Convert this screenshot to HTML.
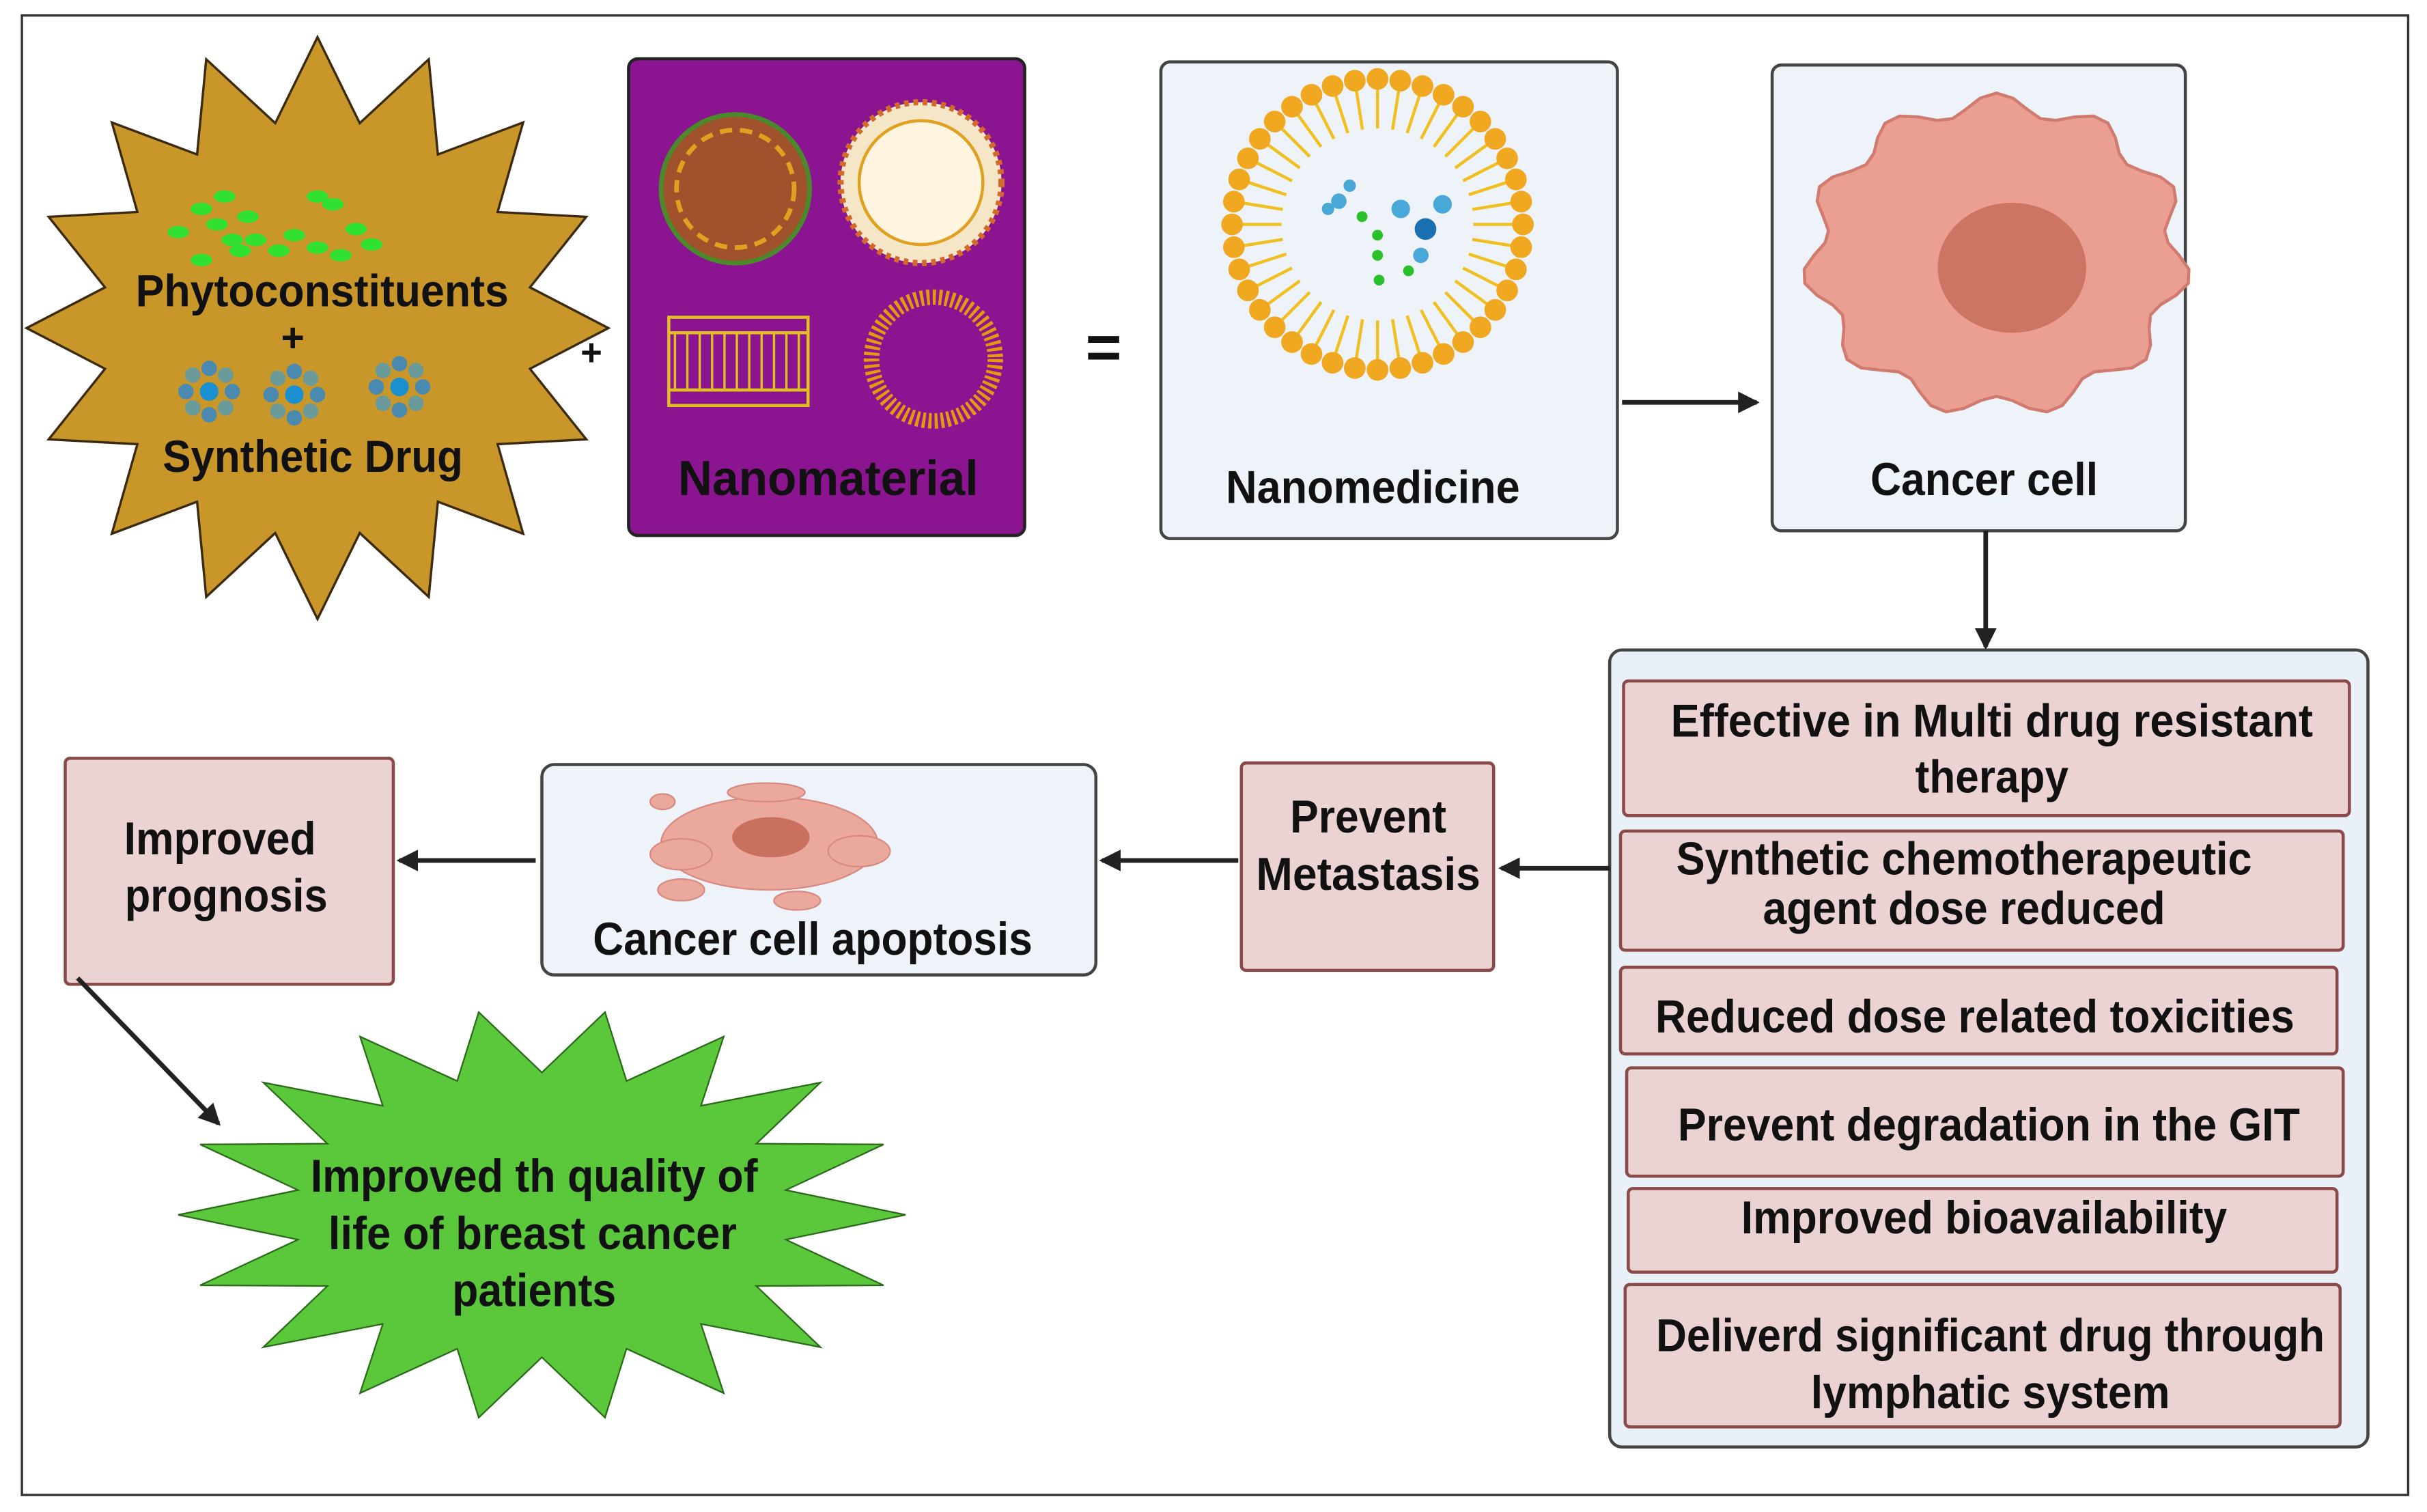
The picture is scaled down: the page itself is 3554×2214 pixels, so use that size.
<!DOCTYPE html>
<html><head><meta charset="utf-8"><style>
html,body{margin:0;padding:0;background:#fff}
svg{display:block}
text{font-family:"Liberation Sans",sans-serif;font-weight:bold;fill:#111}
</style></head><body>
<svg id="s" width="3554" height="2214" viewBox="0 0 1568 977" xmlns="http://www.w3.org/2000/svg">
<defs>
<marker id="ah2" markerWidth="14" markerHeight="14" refX="12" refY="7" orient="auto" markerUnits="userSpaceOnUse"><path d="M0,0 L14,7 L0,14 z" fill="#222"/></marker>
</defs>
<rect x="14" y="10" width="1542" height="956" fill="#fff" stroke="#333" stroke-width="1.5"/>
<polygon id="gold" fill="#c9962a" stroke="#3a2a10" stroke-width="1.5"/>
<g id="greens"></g>
<g id="blues"></g>
<g lengthAdjust="spacingAndGlyphs">
<text x="208" y="198" font-size="29" text-anchor="middle" textLength="241" lengthAdjust="spacingAndGlyphs">Phytoconstituents</text>
<text x="189" y="227" font-size="26" text-anchor="middle">+</text>
<text x="202" y="305" font-size="29" text-anchor="middle" textLength="194" lengthAdjust="spacingAndGlyphs">Synthetic Drug</text>
</g>
<text x="382" y="236" font-size="24" text-anchor="middle">+</text>
<rect x="406" y="38" width="256" height="308" rx="6" fill="#8b1590" stroke="#222" stroke-width="2"/>
<circle cx="475" cy="122" r="48" fill="#a0522d" stroke="#4a8a2a" stroke-width="3"/>
<circle cx="475" cy="122" r="38" fill="none" stroke="#e0a020" stroke-width="3" stroke-dasharray="8 5"/>
<circle cx="595" cy="118" r="52" fill="#f6e6c8" stroke="#d46a2a" stroke-width="4" stroke-dasharray="3 3"/>
<circle cx="595" cy="118" r="40" fill="#fff4e0" stroke="#e0a020" stroke-width="2"/>
<g stroke="#e0c020" stroke-width="2" fill="none">
<rect x="432" y="205" width="90" height="57"/>
<line x1="432" y1="215" x2="522" y2="215"/><line x1="432" y1="252" x2="522" y2="252"/>
</g>
<g id="bil"></g>
<circle cx="603" cy="232" r="40" fill="none" stroke="#e39a10" stroke-width="10" stroke-dasharray="2 2"/>
<text x="535" y="320" font-size="32" text-anchor="middle" textLength="194" lengthAdjust="spacingAndGlyphs">Nanomaterial</text>
<text x="713" y="238" font-size="40" text-anchor="middle">=</text>
<rect x="750" y="40" width="295" height="308" rx="6" fill="#eef3fa" stroke="#444" stroke-width="2"/>
<g id="lipo"></g>
<g fill="#4aa8d8"><circle cx="905" cy="135" r="6"/><circle cx="921" cy="148" r="7" fill="#1a70b0"/><circle cx="932" cy="132" r="6"/><circle cx="918" cy="165" r="5"/><circle cx="865" cy="130" r="5"/><circle cx="872" cy="120" r="4"/><circle cx="858" cy="135" r="4"/></g>
<g fill="#2ac02a"><circle cx="890" cy="152" r="3.5"/><circle cx="890" cy="165" r="3.5"/><circle cx="910" cy="175" r="3.5"/><circle cx="891" cy="181" r="3.5"/><circle cx="880" cy="140" r="3.5"/></g>
<text x="887" y="325" font-size="30" text-anchor="middle" textLength="190" lengthAdjust="spacingAndGlyphs">Nanomedicine</text>
<line x1="1048" y1="260" x2="1135" y2="260" stroke="#222" stroke-width="3" marker-end="url(#ah2)"/>
<rect x="1145" y="42" width="267" height="301" rx="6" fill="#eef3fa" stroke="#444" stroke-width="2"/>
<path id="cell" fill="#eb9f92" stroke="#d07a70" stroke-width="2"/>
<ellipse cx="1300" cy="173" rx="48" ry="42" fill="#cd7565"/>
<text x="1282" y="320" font-size="30" text-anchor="middle" textLength="147" lengthAdjust="spacingAndGlyphs">Cancer cell</text>
<line x1="1283" y1="343" x2="1283" y2="418" stroke="#222" stroke-width="3" marker-end="url(#ah2)"/>
<rect x="1040" y="420" width="490" height="515" rx="8" fill="#e9f0f8" stroke="#444" stroke-width="2"/>
<g fill="#ebd3d3" stroke="#8b4a4a" stroke-width="2">
<rect x="1049" y="440" width="469" height="87" rx="3"/>
<rect x="1047" y="537" width="467" height="77" rx="3"/>
<rect x="1047" y="625" width="463" height="56" rx="3"/>
<rect x="1051" y="690" width="463" height="70" rx="3"/>
<rect x="1052" y="768" width="458" height="54" rx="3"/>
<rect x="1050" y="830" width="462" height="92" rx="3"/>
</g>
<g font-size="30" text-anchor="middle">
<text x="1287" y="476" textLength="415" lengthAdjust="spacingAndGlyphs">Effective in Multi drug resistant</text>
<text x="1287" y="512" textLength="99" lengthAdjust="spacingAndGlyphs">therapy</text>
<text x="1269" y="565" textLength="372" lengthAdjust="spacingAndGlyphs">Synthetic chemotherapeutic</text>
<text x="1269" y="597" textLength="260" lengthAdjust="spacingAndGlyphs">agent dose reduced</text>
<text x="1276" y="667" textLength="413" lengthAdjust="spacingAndGlyphs">Reduced dose related toxicities</text>
<text x="1285" y="737" textLength="402" lengthAdjust="spacingAndGlyphs">Prevent degradation in the GIT</text>
<text x="1282" y="797" textLength="314" lengthAdjust="spacingAndGlyphs">Improved bioavailability</text>
<text x="1286" y="873" textLength="432" lengthAdjust="spacingAndGlyphs">Deliverd significant drug through</text>
<text x="1286" y="910" textLength="232" lengthAdjust="spacingAndGlyphs">lymphatic system</text>
</g>
<line x1="1040" y1="561" x2="970" y2="561" stroke="#222" stroke-width="3" marker-end="url(#ah2)"/>
<rect x="802" y="493" width="163" height="134" rx="3" fill="#ebd3d3" stroke="#8b4a4a" stroke-width="2"/>
<text x="884" y="538" font-size="30" text-anchor="middle" textLength="101" lengthAdjust="spacingAndGlyphs">Prevent</text>
<text x="884" y="575" font-size="30" text-anchor="middle" textLength="145" lengthAdjust="spacingAndGlyphs">Metastasis</text>
<line x1="800" y1="556" x2="712" y2="556" stroke="#222" stroke-width="3" marker-end="url(#ah2)"/>
<rect x="350" y="494" width="358" height="136" rx="8" fill="#eef3fa" stroke="#444" stroke-width="2"/>
<g fill="#eba89c" stroke="#d88a80">
<ellipse cx="497" cy="545" rx="70" ry="30"/><ellipse cx="440" cy="552" rx="20" ry="10"/><ellipse cx="555" cy="550" rx="20" ry="10"/><ellipse cx="495" cy="512" rx="25" ry="6"/><ellipse cx="440" cy="575" rx="15" ry="7"/><ellipse cx="515" cy="582" rx="15" ry="6"/><ellipse cx="428" cy="518" rx="8" ry="5"/>
</g>
<ellipse cx="498" cy="541" rx="25" ry="13" fill="#c97060"/>
<text x="525" y="617" font-size="30" text-anchor="middle" textLength="284" lengthAdjust="spacingAndGlyphs">Cancer cell apoptosis</text>
<line x1="346" y1="556" x2="258" y2="556" stroke="#222" stroke-width="3" marker-end="url(#ah2)"/>
<rect x="42" y="490" width="212" height="146" rx="3" fill="#ebd3d3" stroke="#8b4a4a" stroke-width="2"/>
<text x="142" y="552" font-size="30" text-anchor="middle" textLength="124" lengthAdjust="spacingAndGlyphs">Improved</text>
<text x="146" y="589" font-size="30" text-anchor="middle" textLength="131" lengthAdjust="spacingAndGlyphs">prognosis</text>
<line x1="50" y1="632" x2="141" y2="726" stroke="#222" stroke-width="3" marker-end="url(#ah2)"/>
<polygon id="green" fill="#5ac83a" stroke="#2a6a1a" stroke-width="1"/>
<text x="345" y="770" font-size="30" text-anchor="middle" textLength="289" lengthAdjust="spacingAndGlyphs">Improved th quality of</text>
<text x="344" y="807" font-size="30" text-anchor="middle" textLength="264" lengthAdjust="spacingAndGlyphs">life of breast cancer</text>
<text x="345" y="844" font-size="30" text-anchor="middle" textLength="106" lengthAdjust="spacingAndGlyphs">patients</text>
<script>
function star(id,cx,cy,rx,ry,irx,iry,n,off){var p=[];for(var i=0;i<2*n;i++){var a=off+Math.PI*i/n;var o=i%2==0;p.push((cx+(o?rx:irx)*Math.cos(a)).toFixed(1)+","+(cy+(o?ry:iry)*Math.sin(a)).toFixed(1));}document.getElementById(id).setAttribute("points",p.join(" "));}
star("gold",205,212,188,188,140,135,16,-Math.PI/2);
star("green",350,785,235,133,160,92,18,0);
var NS="http://www.w3.org/2000/svg";
function el(g,t,a){var e=document.createElementNS(NS,t);for(var k in a)e.setAttribute(k,a[k]);document.getElementById(g).appendChild(e);}
var gp=[[130,135],[145,127],[160,140],[140,145],[150,155],[115,150],[165,155],[205,127],[215,132],[190,152],[205,160],[230,148],[240,158],[180,162],[130,168],[220,165],[155,162]];
gp.forEach(function(q){el("greens","ellipse",{cx:q[0],cy:q[1],rx:7,ry:4,fill:"#30e030"});});
[[135,253],[190,255],[258,250]].forEach(function(c){for(var i=0;i<8;i++){var a=i*Math.PI/4;el("blues","circle",{cx:c[0]+15*Math.cos(a),cy:c[1]+15*Math.sin(a),r:5,fill:i%2?"#6a9a9a":"#4a8ab0"});}el("blues","circle",{cx:c[0],cy:c[1],r:6,fill:"#1a90d0"});});
for(var x=436;x<522;x+=8){el("bil","line",{x1:x,y1:215,x2:x,y2:252,stroke:"#e0c020","stroke-width":1.5});}
for(var i=0;i<40;i++){var a=i*2*Math.PI/40,cx=890,cy=145;el("lipo","line",{x1:cx+88*Math.cos(a),y1:cy+88*Math.sin(a),x2:cx+62*Math.cos(a),y2:cy+62*Math.sin(a),stroke:"#f0c020","stroke-width":2});el("lipo","circle",{cx:cx+94*Math.cos(a),cy:cy+94*Math.sin(a),r:7,fill:"#f0a820"});}
var d="";for(var i=0;i<=72;i++){var a=i*2*Math.PI/72;var r=1+0.07*Math.sin(a*11);var x=1290+118*r*Math.cos(a),y=165+98*r*Math.sin(a);d+=(i?"L":"M")+x.toFixed(1)+","+y.toFixed(1);}
document.getElementById("cell").setAttribute("d",d+"Z");
</script>
</svg>
</body></html>
